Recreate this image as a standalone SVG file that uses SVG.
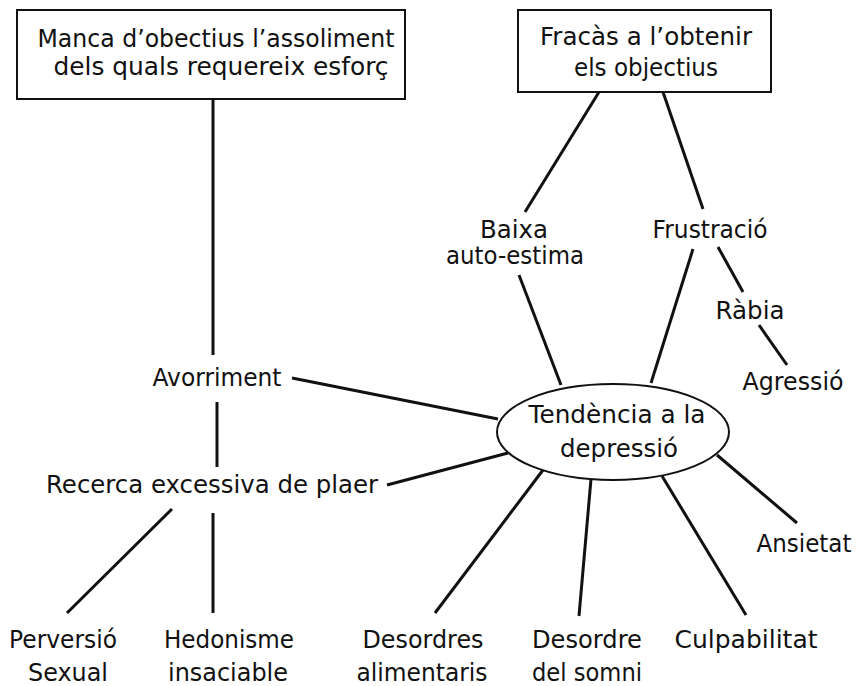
<svg xmlns="http://www.w3.org/2000/svg" width="856" height="686" viewBox="0 0 856 686">
<style>
  text { font-family: "DejaVu Sans", "Liberation Sans", sans-serif; font-size: 25px; fill: #111; text-anchor: middle; }
  .box { fill: #fff; stroke: #111; stroke-width: 2; }
  .conn line { stroke: #111; stroke-width: 3; stroke-linecap: butt; }
</style>
<rect width="856" height="686" fill="#fff"/>
<g id="connectors" class="conn">
  <line x1="213" y1="99" x2="213" y2="355"/>
  <line x1="599" y1="92" x2="525" y2="212"/>
  <line x1="663" y1="92" x2="703" y2="209"/>
  <line x1="519" y1="275" x2="561" y2="385"/>
  <line x1="693" y1="249" x2="651" y2="383"/>
  <line x1="718" y1="247" x2="743" y2="292"/>
  <line x1="759" y1="325" x2="787" y2="365"/>
  <line x1="292" y1="378" x2="498" y2="419"/>
  <line x1="217" y1="402" x2="217" y2="467"/>
  <line x1="387" y1="485" x2="508" y2="453"/>
  <line x1="172" y1="509" x2="67" y2="613"/>
  <line x1="213" y1="513" x2="213" y2="613"/>
  <line x1="543" y1="470" x2="435" y2="613"/>
  <line x1="591" y1="479" x2="579" y2="616"/>
  <line x1="662" y1="476" x2="746" y2="615"/>
  <line x1="717" y1="455" x2="797" y2="523"/>
</g>
<g id="manca">
  <rect class="box" x="17" y="10" width="388" height="89"/>
  <text x="216" y="47" textLength="357" lengthAdjust="spacingAndGlyphs">Manca d’obectius l’assoliment</text>
  <text x="221" y="75" textLength="335" lengthAdjust="spacingAndGlyphs">dels quals requereix esforç</text>
</g>
<g id="fracas">
  <rect class="box" x="518" y="10" width="253" height="82"/>
  <text x="646" y="45" textLength="212" lengthAdjust="spacingAndGlyphs">Fracàs a l’obtenir</text>
  <text x="646" y="76" textLength="144" lengthAdjust="spacingAndGlyphs">els objectius</text>
</g>
<g id="baixa">
  <text x="514" y="238" textLength="68" lengthAdjust="spacingAndGlyphs">Baixa</text>
  <text x="515" y="264" textLength="138" lengthAdjust="spacingAndGlyphs">auto-estima</text>
</g>
<g id="frustracio">
  <text x="710" y="238" textLength="115" lengthAdjust="spacingAndGlyphs">Frustració</text>
</g>
<g id="rabia">
  <text x="750" y="319" textLength="69" lengthAdjust="spacingAndGlyphs">Ràbia</text>
</g>
<g id="agressio">
  <text x="793" y="390" textLength="101" lengthAdjust="spacingAndGlyphs">Agressió</text>
</g>
<g id="avorriment">
  <text x="217" y="386" textLength="129" lengthAdjust="spacingAndGlyphs">Avorriment</text>
</g>
<g id="tendencia">
  <ellipse class="box" cx="613" cy="432" rx="116" ry="48"/>
  <text x="617" y="423" textLength="177" lengthAdjust="spacingAndGlyphs">Tendència a la</text>
  <text x="619" y="457" textLength="118" lengthAdjust="spacingAndGlyphs">depressió</text>
</g>
<g id="recerca">
  <text x="212" y="493" textLength="332" lengthAdjust="spacingAndGlyphs">Recerca excessiva de plaer</text>
</g>
<g id="ansietat">
  <text x="804" y="552" textLength="95" lengthAdjust="spacingAndGlyphs">Ansietat</text>
</g>
<g id="perversio">
  <text x="63" y="648" textLength="108" lengthAdjust="spacingAndGlyphs">Perversió</text>
  <text x="68" y="681" textLength="80" lengthAdjust="spacingAndGlyphs">Sexual</text>
</g>
<g id="hedonisme">
  <text x="229" y="648" textLength="130" lengthAdjust="spacingAndGlyphs">Hedonisme</text>
  <text x="228" y="681" textLength="120" lengthAdjust="spacingAndGlyphs">insaciable</text>
</g>
<g id="desordres">
  <text x="423" y="648" textLength="121" lengthAdjust="spacingAndGlyphs">Desordres</text>
  <text x="422" y="681" textLength="131" lengthAdjust="spacingAndGlyphs">alimentaris</text>
</g>
<g id="somni">
  <text x="587" y="648" textLength="110" lengthAdjust="spacingAndGlyphs">Desordre</text>
  <text x="587" y="681" textLength="110" lengthAdjust="spacingAndGlyphs">del somni</text>
</g>
<g id="culpabilitat">
  <text x="746" y="648" textLength="143" lengthAdjust="spacingAndGlyphs">Culpabilitat</text>
</g>
</svg>
